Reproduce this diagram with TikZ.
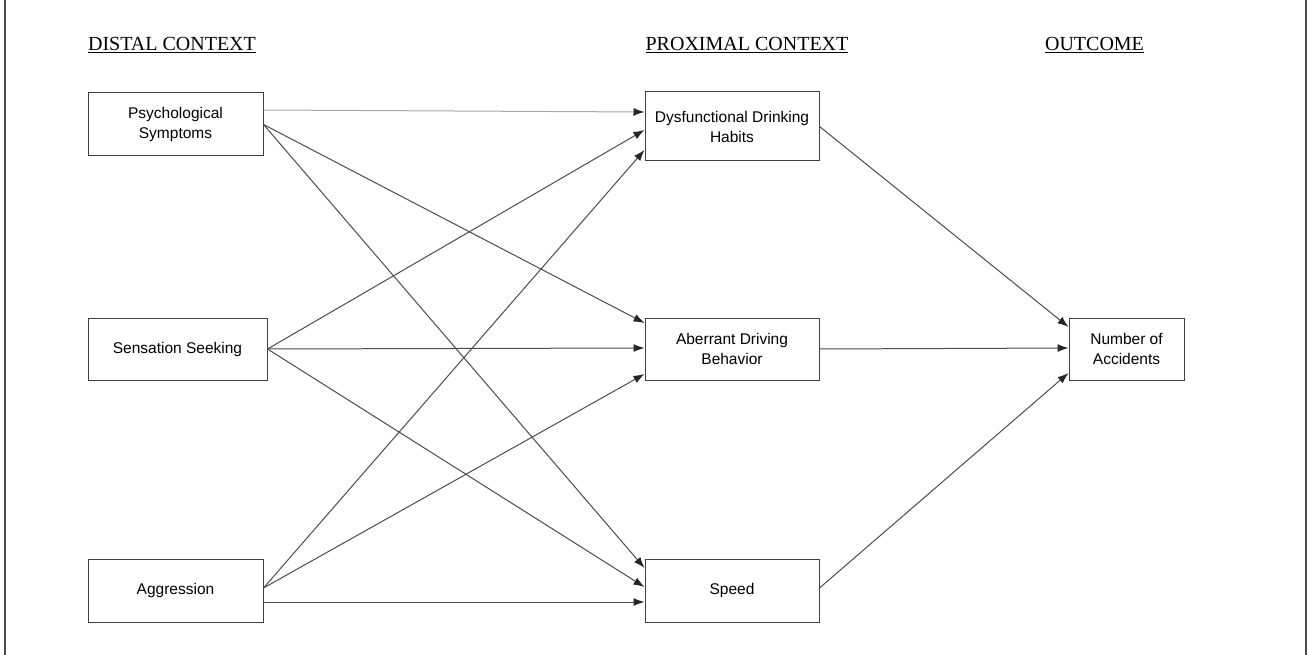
\documentclass[tikz,border=0pt]{standalone}
\usepackage{fontspec}
\setmainfont{Liberation Serif}
\newfontfamily\boxfont{Liberation Sans}
\usetikzlibrary{arrows.meta,calc}
\begin{document}
\begin{tikzpicture}[x=1pt,y=-1pt,
  box/.style={draw=black!75,line width=1pt,rectangle,inner sep=0pt,
    font=\boxfont\fontsize{15.5}{20}\selectfont,align=center,text=black},
  head/.style={font=\fontsize{20}{22}\selectfont,text=black,inner sep=0pt},
  conn/.style={draw=black!70,line width=1pt,-{Latex[length=11pt,width=8pt,color=black!85]}},
  light/.style={draw=black!35,line width=1pt,-{Latex[length=11pt,width=8pt,color=black!85]}},
  frameline/.style={draw=black!70,line width=1.4pt}]
\useasboundingbox (0,0) rectangle (1308,655);
\draw[frameline] (5,0) -- (5,655);
\draw[frameline] (1306,0) -- (1306,655);

\node[head] (h1) at (172,45) {\underline{DISTAL CONTEXT}};
\node[head] (h2) at (747,45) {\underline{PROXIMAL CONTEXT}};
\node[head] (h3) at (1094.5,45) {\underline{OUTCOME}};

\node[box,minimum width=175pt,minimum height=63pt] (PS) at (175.5,124.5) {Psychological\\Symptoms};
\node[box,minimum width=179pt,minimum height=62pt] (SS) at (177.5,349) {Sensation Seeking};
\node[box,minimum width=175pt,minimum height=63pt] (AG) at (175.5,590.5) {Aggression};
\node[box,minimum width=174pt,minimum height=69pt] (DH) at (732,126.5) {Dysfunctional Drinking\\Habits};
\node[box,minimum width=174pt,minimum height=62pt] (AB) at (732,349) {Aberrant Driving\\Behavior};
\node[box,minimum width=174pt,minimum height=63pt] (SP) at (732,590.5) {Speed};
\node[box,minimum width=115pt,minimum height=62pt] (NA) at (1126.5,349) {Number of\\Accidents};

% Psychological Symptoms
\draw[light] ([yshift=14.5pt]PS.east) -- ([yshift=14.5pt]DH.west);
\draw[conn] (PS.east) -- ([yshift=26pt]AB.west);
\draw[conn] (PS.east) -- ([yshift=22.5pt]SP.west);
% Sensation Seeking
\draw[conn] (SS.east) -- ([yshift=-3.5pt]DH.west);
\draw[conn] (SS.east) -- ([yshift=1pt]AB.west);
\draw[conn] (SS.east) -- ([yshift=3.5pt]SP.west);
% Aggression
\draw[conn] ([yshift=2.5pt]AG.east) -- ([yshift=-23.5pt]DH.west);
\draw[conn] ([yshift=2.5pt]AG.east) -- ([yshift=-25pt]AB.west);
\draw[conn] ([yshift=-11.5pt]AG.east) -- ([yshift=-11.5pt]SP.west);
% Outcome
\draw[conn] (DH.east) -- ([yshift=22pt]NA.west);
\draw[conn] (AB.east) -- ([yshift=1pt]NA.west);
\draw[conn] ([yshift=2.5pt]SP.east) -- ([yshift=-24pt]NA.west);
\end{tikzpicture}
\end{document}
